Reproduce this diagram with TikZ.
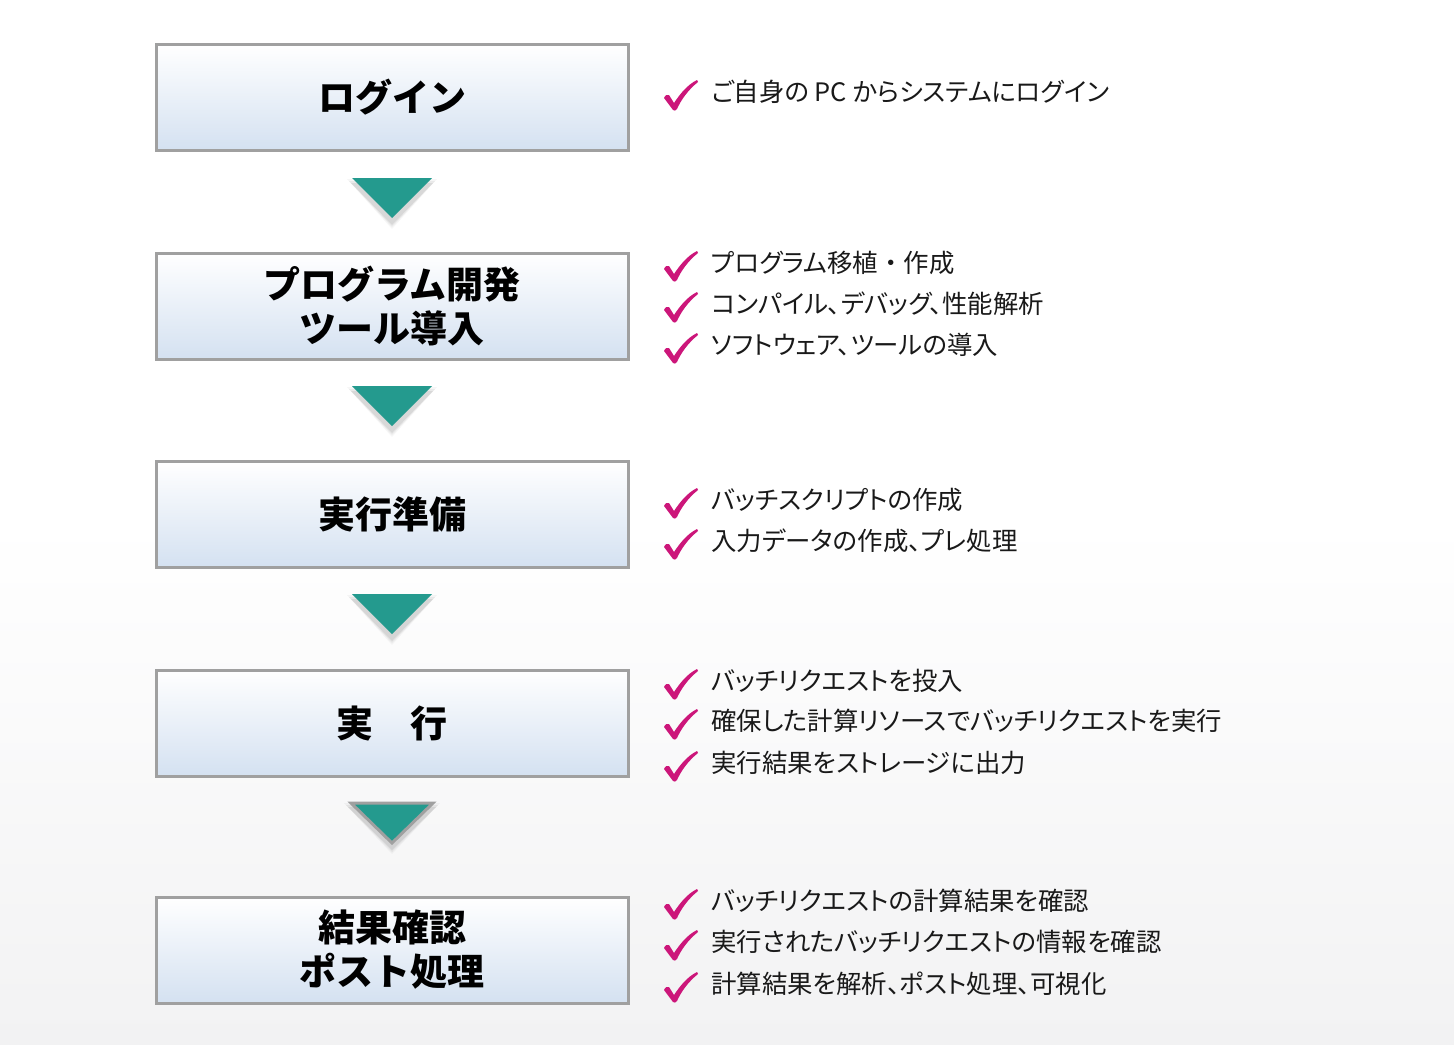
\documentclass[tikz,border=0pt]{standalone}
\usepackage{fontspec}
\setmainfont{Noto Sans CJK JP}
\newfontfamily\jpp[RawFeature=+palt]{Noto Sans CJK JP}
\newfontfamily\jpn{Noto Sans CJK JP}
\begin{document}
\begin{tikzpicture}[x=0.5pt,y=-0.5pt,
  stepbox/.style={draw=boxgray,line width=1.5pt,top color=white,bottom color=boxblue,
    minimum width=236pt,minimum height=53pt,inner sep=0pt,align=center,
    font=\fontsize{18.5}{22}\selectfont\bfseries,text=black},
  item/.style={anchor=west,inner sep=0pt,font=\jpp\fontsize{12.7}{14}\selectfont,text=txt},
  tri/.style={fill=teal1},
]
\definecolor{boxgray}{RGB}{160,160,160}
\definecolor{boxblue}{RGB}{212,225,241}
\definecolor{teal1}{RGB}{36,154,142}
\definecolor{chk}{RGB}{204,22,122}
\definecolor{txt}{RGB}{25,25,25}
\definecolor{bgbot}{RGB}{242,242,243}
\useasboundingbox (0,0) rectangle (1454,1044);
\shade[top color=white,bottom color=bgbot,middle color=white] (0,0) rectangle (1454,1044);
% boxes
\node[stepbox] (b1) at (392,97.5) {ログイン};
\node[stepbox] (b2) at (392,306) {プログラム開発\\ツール導入};
\node[stepbox] (b3) at (392,514.5) {実行準備};
\node[stepbox] (b4) at (392,723) {実　行};
\node[stepbox] (b5) at (392,950) {結果確認\\ポスト処理};
% arrows
\foreach \yy/\nm in {178/a1,386/a2,594/a3} {
  \foreach \k/\op in {5/0.035,3/0.05,1/0.07} {
    \fill[black,opacity=\op] (352-\k,\yy+6-\k) -- (432+\k,\yy+6-\k) -- (392,\yy+46+\k) -- cycle;
  }
  \fill[tri] (352,\yy) -- (432,\yy) -- (392,\yy+40) coordinate (\nm) -- cycle;
}
\foreach \k/\op in {5/0.035,3/0.05,1/0.07} {
  \fill[black,opacity=\op] (349-\k,808-\k) -- (435+\k,808-\k) -- (392,849+\k) -- cycle;
}
\fill[tri,draw=boxgray,line width=1.5pt] (351,803) -- (433,803) -- (392,843) coordinate (a4) -- cycle;
% check mark pic
\tikzset{chkpic/.pic={
  \fill[chk] (-11,-11) .. controls (-10,-14) and (-7,-15) .. (-6,-14)
    -- (-1,-6) .. controls (5,-15) and (12,-24) .. (22,-29)
    -- (23,-27) .. controls (13,-19) and (6,-9) .. (2,0)
    .. controls (1,2) and (-1,2) .. (-2,1) -- cycle;
}}
\newcommand\itm[3]{%
  \pic at (675,#1+17) {chkpic};
  \node[item] (#2) at (711,#1) {#3};}
\itm{92}{t1}{ご自身の PC からシステムにログイン}
\itm{263}{t2}{プログラム移植{\jpn ・}作成}
\itm{304}{t3}{コンパイル、デバッグ、性能解析}
\itm{345}{t4}{ソフトウェア、ツールの導入}
\itm{500}{t5}{バッチスクリプトの作成}
\itm{541}{t6}{入力データの作成、プレ処理}
\itm{681}{t7}{バッチリクエストを投入}
\itm{721}{t8}{確保した計算リソースでバッチリクエストを実行}
\itm{763}{t9}{実行結果をストレージに出力}
\itm{901}{t10}{バッチリクエストの計算結果を確認}
\itm{942}{t11}{実行されたバッチリクエストの情報を確認}
\itm{984}{t12}{計算結果を解析、ポスト処理、可視化}
\end{tikzpicture}
\end{document}
